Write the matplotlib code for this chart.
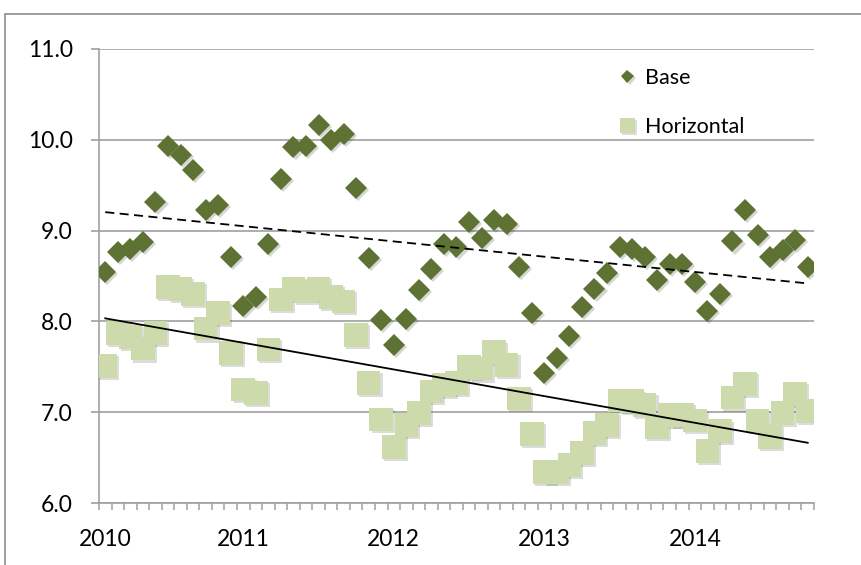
import numpy as np
import matplotlib.pyplot as plt
import matplotlib.patheffects as pe
from matplotlib.patches import Rectangle

plt.rcParams['font.family'] = ['Lato', 'DejaVu Sans']

# valores mensuales (ene 2010 - sep 2014)
base = [8.54, 8.76, 8.80, 8.87, 9.32, 9.93, 9.83, 9.67, 9.23, 9.28,
        8.71, 8.17, 8.27, 8.85, 9.57, 9.92, 9.93, 10.16, 10.00, 10.06,
        9.47, 8.70, 8.02, 7.74, 8.03, 8.35, 8.58, 8.85, 8.82, 9.10,
        8.92, 9.12, 9.07, 8.60, 8.09, 7.43, 7.60, 7.84, 8.16, 8.36,
        8.53, 8.82, 8.80, 8.71, 8.46, 8.63, 8.63, 8.43, 8.12, 8.30,
        8.88, 9.23, 8.95, 8.71, 8.79, 8.90, 8.60]
horizontal = [7.51, 7.87, 7.83, 7.70, 7.87, 8.38, 8.36, 8.30, 7.92, 8.09,
              7.65, 7.25, 7.21, 7.69, 8.24, 8.36, 8.33, 8.36, 8.27, 8.22,
              7.85, 7.32, 6.92, 6.62, 6.86, 6.99, 7.23, 7.30, 7.32, 7.50,
              7.48, 7.66, 7.52, 7.15, 6.76, 6.34, 6.34, 6.42, 6.55, 6.77,
              6.86, 7.13, 7.12, 7.08, 6.84, 6.97, 6.97, 6.91, 6.57, 6.79,
              7.16, 7.31, 6.91, 6.73, 6.99, 7.20, 7.01]
year_labels = ['2010', '2011', '2012', '2013', '2014']
year_pos = [0, 11, 23, 35, 47]

x = np.arange(len(base))
c_base = '#5E7234'
c_hor = '#CDDAAC'
gris = '#A0A0A0'

fig = plt.figure(figsize=(8.62, 5.65), dpi=100)
fig.patches.append(Rectangle((5/862, -0.5), 2, 1.5 - 14/565, transform=fig.transFigure,
                             fill=False, edgecolor='#8C8C8C', linewidth=1.2))
ax = fig.add_axes([99/862, 62/565, 715/862, 454/565])

sombra = [pe.SimplePatchShadow(offset=(1.5, -1.5), alpha=0.18), pe.Normal()]
ax.plot(x, base, 'D', color=c_base, markersize=11.2, markeredgewidth=0,
        label='Base', path_effects=sombra, zorder=3)
ax.plot(x, horizontal, 's', color=c_hor, markersize=17, markeredgewidth=0,
        label='Horizontal', path_effects=sombra, zorder=3)

# lineas de tendencia
pb = np.polyfit(x, base, 1)
ph = np.polyfit(x, horizontal, 1)
xt = np.array([x[0], x[-1]])
ax.plot(xt, np.polyval(pb, xt), color='black', linewidth=1.3, linestyle=(0, (5, 3)), zorder=4)
ax.plot(xt, np.polyval(ph, xt), color='black', linewidth=1.3, zorder=4)

ax.set_xlim(-0.5, len(base) - 0.5)
ax.set_ylim(6, 11)
ax.set_yticks(np.arange(6, 11.1, 1))
ax.set_yticklabels(['{:.1f}'.format(v) for v in np.arange(6, 11.1, 1)])
ax.set_xticks(year_pos)
ax.set_xticklabels(year_labels)
ax.set_xticks(np.arange(-0.5, len(base)), minor=True)

ax.grid(True, axis='y', color=gris, linewidth=1.2)
ax.set_axisbelow(True)
for s in ['top', 'right']:
    ax.spines[s].set_visible(False)
for s in ['left', 'bottom']:
    ax.spines[s].set_color(gris)
    ax.spines[s].set_linewidth(1.2)
ax.tick_params(axis='y', length=6, width=1.2, color=gris, pad=13, labelsize=16.5)
ax.tick_params(axis='x', which='major', length=0, pad=19, labelsize=16.5)
ax.tick_params(axis='x', which='minor', length=5, width=1.1, color=gris)

ax.legend(loc='upper left', bbox_to_anchor=(0.712, 0.982), frameon=False, fontsize=15.5,
          markerscale=0.6, handlelength=0.8, handletextpad=0.4, labelspacing=1.35,
          borderpad=0)

fig.savefig('out.png', dpi=100)
